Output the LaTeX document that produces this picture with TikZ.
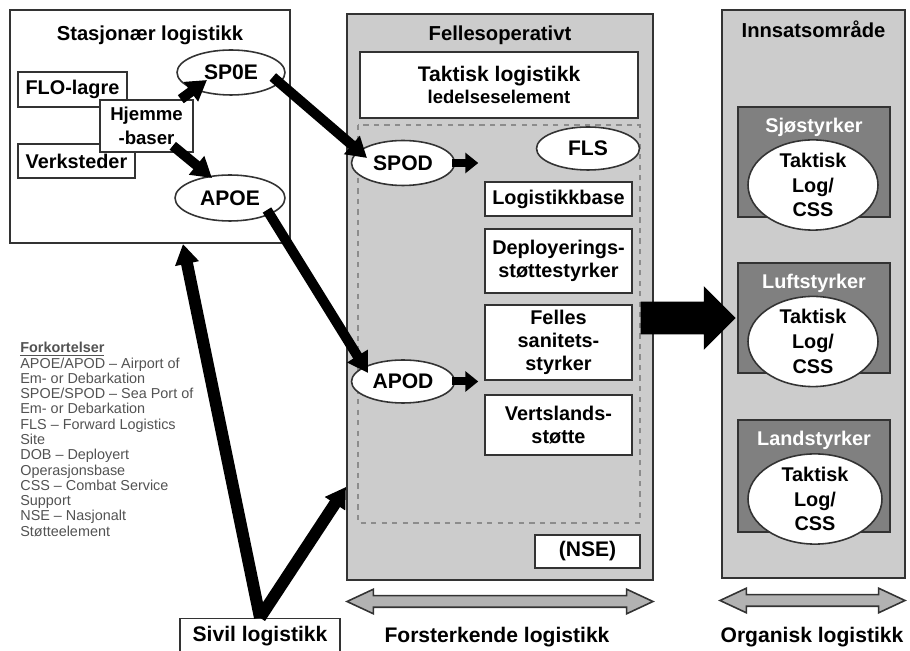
\documentclass[tikz,border=0pt]{standalone}
\usepackage{fontspec}
\setmainfont{Liberation Sans}
\usepackage{tikz}
\usetikzlibrary{shapes.geometric, shapes.arrows, arrows.meta, positioning}
\definecolor{panel}{gray}{0.80}
\definecolor{forcefill}{gray}{0.50}
\definecolor{legendtext}{gray}{0.32}
\tikzstyle{zonebox} = [rectangle, draw=black!80, line width=1.2pt, inner sep=0pt]
\tikzstyle{zonetitle} = [inner sep=0pt, font=\bfseries\fontsize{11.5}{13}\selectfont]
\tikzstyle{unitbox} = [rectangle, draw=black!80, fill=white, line width=0.9pt, text centered, align=center, inner sep=0pt, font=\bfseries\fontsize{11.3}{13}\selectfont]
\tikzstyle{portnode} = [ellipse, draw=black!80, fill=white, line width=0.9pt, inner sep=0pt, align=center, font=\bfseries\fontsize{12}{14}\selectfont]
\tikzstyle{forcebox} = [rectangle, draw=black!80, fill=forcefill, line width=0.9pt, minimum width=3.04cm, minimum height=2.2cm]
\tikzstyle{forcetitle} = [inner sep=0pt, text=white, font=\bfseries\fontsize{11.3}{13}\selectfont]
\tikzstyle{thickflow} = [line width=0.2cm, -{Triangle[length=0.4cm,width=0.46cm]}]
\tikzstyle{shortflow} = [line width=0.16cm, -{Triangle[length=0.26cm,width=0.4cm]}]
\tikzstyle{spanarrow} = [double arrow, draw=black!80, fill=black!30, line width=0.9pt, inner xsep=0pt, inner ysep=0.1cm, minimum width=0.46cm, double arrow head extend=0.13cm, double arrow tip angle=50]

\begin{document}
\begin{tikzpicture}[x=0.02cm, y=-0.02cm]
    \useasboundingbox (0,0) rectangle (910,651);

    % Stasjonaer logistikk
    \node (stasjonar) [zonebox, fill=white, minimum width=5.6cm, minimum height=4.66cm] at (150,126.5) {};
    \node (stasjonartitle) [zonetitle, below=0.34cm of stasjonar.north] {Stasjonær logistikk};
    \node (flo) [unitbox, minimum width=2.18cm, minimum height=0.7cm] at (72.5,89.5) {FLO-lagre};
    \node (verksteder) [unitbox, minimum width=2.34cm, minimum height=0.68cm] at (76.5,161) {Verksteder};
    \node (hjemme) [unitbox, minimum width=1.86cm, minimum height=1.04cm, font=\bfseries\fontsize{10.6}{13.5}\selectfont] at (146.5,126) {Hjemme\\-baser};
    \node (sp0e) [portnode, minimum width=2.16cm, minimum height=0.9cm] at (231,72.5) {SP0E};
    \node (apoe) [portnode, minimum width=2.2cm, minimum height=0.92cm] at (230,198) {APOE};

    % Fellesoperativt
    \node (felles) [zonebox, fill=panel, minimum width=6.12cm, minimum height=11.32cm] at (500,297) {};
    \node (fellestitle) [zonetitle, below=0.26cm of felles.north] {Fellesoperativt};
    \node (taktisk) [unitbox, minimum width=5.56cm, minimum height=1.32cm] at (499,85) {\fontsize{12}{15}\selectfont Taktisk logistikk\\ \fontsize{10.5}{13}\selectfont ledelseselement};
    \draw [dashed, black!45, line width=0.8pt] (358,125) rectangle (640,523);
    \node (spod) [portnode, minimum width=2.06cm, minimum height=0.9cm] at (403,163) {SPOD};
    \node (fls) [portnode, minimum width=2.06cm, minimum height=0.86cm] at (588,148.5) {FLS};
    \node (logbase) [unitbox, minimum width=2.94cm, minimum height=0.68cm] at (558.5,199) {Logistikkbase};
    \node (deploy) [unitbox, minimum width=2.94cm, minimum height=1.28cm] at (558.5,261) {Deployerings-\\støttestyrker};
    \node (sanitet) [unitbox, minimum width=2.94cm, minimum height=1.5cm] at (558.5,342.5) {Felles\\sanitets-\\styrker};
    \node (apod) [portnode, minimum width=2.06cm, minimum height=0.86cm] at (403,381.5) {APOD};
    \node (vertsland) [unitbox, minimum width=2.94cm, minimum height=1.2cm] at (558.5,425) {Vertslands-\\støtte};
    \node (nse) [unitbox, minimum width=2.1cm, minimum height=0.66cm, font=\bfseries\fontsize{12}{14}\selectfont] at (587.5,551.5) {(NSE)};

    % Innsatsomraade
    \node (innsats) [zonebox, fill=panel, minimum width=3.66cm, minimum height=11.36cm] at (813.5,294) {};
    \node (innsatstitle) [zonetitle, below=0.24cm of innsats.north] {Innsatsområde};
    \node (sjo) [forcebox] at (814,162) {};
    \node (sjotitle) [forcetitle, below=0.24cm of sjo.north] {Sjøstyrker};
    \node (sjolog) [portnode, minimum width=2.6cm, minimum height=1.72cm, font=\bfseries\fontsize{11.3}{14}\selectfont] at (813,185) {Taktisk\\Log/\\CSS};
    \node (luft) [forcebox] at (814,318) {};
    \node (lufttitle) [forcetitle, below=0.24cm of luft.north] {Luftstyrker};
    \node (luftlog) [portnode, minimum width=2.6cm, minimum height=1.74cm, font=\bfseries\fontsize{11.3}{14}\selectfont] at (813,341.5) {Taktisk\\Log/\\CSS};
    \node (land) [forcebox, minimum height=2.24cm] at (814,476) {};
    \node (landtitle) [forcetitle, below=0.24cm of land.north] {Landstyrker};
    \node (landlog) [portnode, minimum width=2.68cm, minimum height=1.76cm, font=\bfseries\fontsize{11.3}{14}\selectfont] at (815,499) {Taktisk\\Log/\\CSS};

    % bottom
    \node (midspan) [spanarrow, minimum height=6.12cm] at (500,601.5) {};
    \node (rightspan) [spanarrow, minimum height=3.7cm] at (812.5,600.5) {};
    \node (forsterkende) [font=\bfseries\fontsize{12}{14}\selectfont] at (497,637) {Forsterkende logistikk};
    \node (organisk) [font=\bfseries\fontsize{12}{14}\selectfont] at (812,637) {Organisk logistikk};
    \node (sivil) [unitbox, minimum width=3.2cm, minimum height=0.7cm, font=\bfseries\fontsize{12}{14}\selectfont] at (260,636) {Sivil logistikk};

    % legend
    \node (legend) [anchor=north west, align=left, inner sep=0pt, text=legendtext, font=\fontsize{8.2}{8.7}\selectfont] at (20,342) {\textbf{\underline{Forkortelser}}\\
        APOE/APOD – Airport of\\ Em- or Debarkation\\
        SPOE/SPOD – Sea Port of\\ Em- or Debarkation\\
        FLS – Forward Logistics\\ Site\\
        DOB – Deployert\\ Operasjonsbase\\
        CSS – Combat Service\\ Support\\
        NSE – Nasjonalt\\ Støtteelement};

    \node (bigarrow) [single arrow, fill=black, inner xsep=0pt, inner ysep=0.32cm, minimum height=1.9cm, minimum width=1.26cm, single arrow head extend=0.31cm] at (680,318) {};

    \coordinate (spodout) at ([xshift=0.46cm]spod.east);
    \coordinate (apodout) at ([xshift=0.46cm]apod.east);

    \draw [thickflow] ([xshift=-0.26cm]hjemme.north east) -- ([xshift=-0.48cm,yshift=-0.15cm]sp0e.center);
    \draw [thickflow] ([xshift=-0.42cm,yshift=0.14cm]hjemme.south east) -- ([xshift=-0.36cm,yshift=0.4cm]apoe.center);
    \draw [thickflow] ([xshift=-0.26cm,yshift=-0.09cm]sp0e.east) -- ([xshift=-0.72cm,yshift=0.1cm]spod.center);
    \draw [thickflow] ([xshift=0.74cm,yshift=-0.24cm]apoe.center) -- ([xshift=-0.7cm,yshift=0.17cm]apod.center);
    \draw [shortflow] ([xshift=-0.06cm]spod.east) -- (spodout);
    \draw [shortflow] ([xshift=-0.06cm]apod.east) -- (apodout);
    \draw [thickflow, line width=0.24cm] (sivil.north) -- ([xshift=0.66cm]stasjonar.south);
    \draw [thickflow, line width=0.24cm] (sivil.north) -- ([yshift=-3.8cm]felles.west);
\end{tikzpicture}
\end{document}
